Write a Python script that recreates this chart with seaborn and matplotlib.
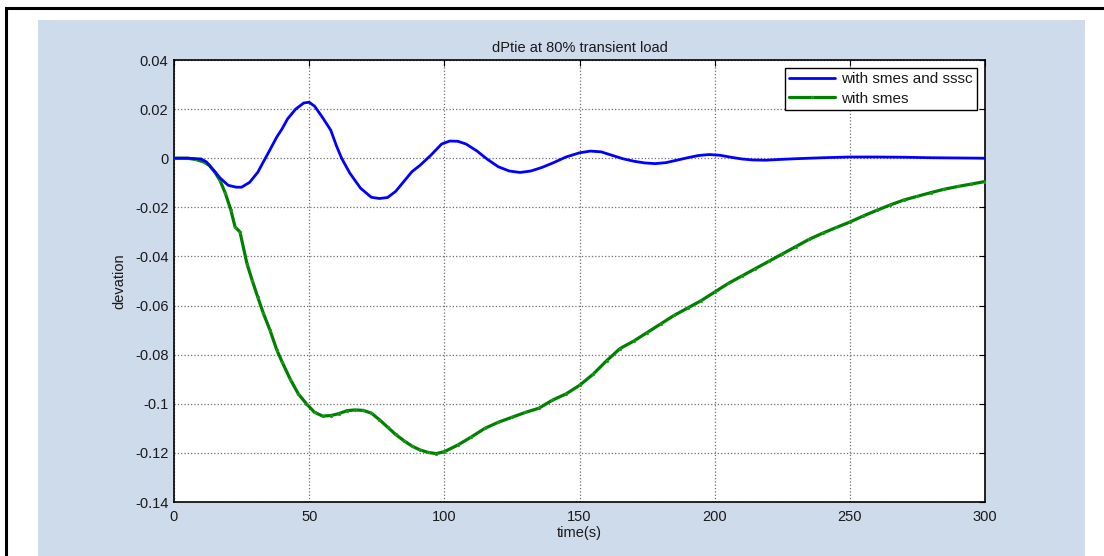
import matplotlib
matplotlib.use("Agg")
import matplotlib.pyplot as plt
from matplotlib.patches import Rectangle
import pandas as pd
import seaborn as sns

# Tie-line power deviation, with SMES + SSSC
t_sssc = [0, 5, 10, 12, 14, 17, 20, 23, 25, 28, 31, 33, 35, 38, 40, 42, 45, 48, 50,
          52, 55, 58, 60, 62, 65, 69, 73, 76, 79, 82, 85, 88, 91, 95, 99, 102, 105,
          108, 112, 116, 120, 124, 128, 132, 136, 140, 145, 150, 154, 158, 162,
          166, 170, 174, 178, 182, 186, 190, 194, 198, 202, 206, 210, 214, 219,
          224, 230, 240, 250, 260, 270, 280, 290, 300]
dp_sssc = [0.0, 0.0, -0.0003, -0.0015, -0.004, -0.008, -0.011, -0.0118, -0.0118,
           -0.0098, -0.0057, -0.0016, 0.0024, 0.0086, 0.012, 0.016, 0.0200, 0.0225,
           0.0228, 0.0212, 0.0165, 0.0114, 0.0053, 0.0, -0.006, -0.0122, -0.0159,
           -0.0164, -0.0160, -0.0135, -0.0095, -0.0055, -0.0029, 0.0012, 0.0058,
           0.0070, 0.0069, 0.0058, 0.0030, -0.0005, -0.0035, -0.0052, -0.0058,
           -0.0052, -0.0038, -0.0020, 0.0005, 0.0022, 0.0029, 0.0026, 0.0012,
           -0.0002, -0.0012, -0.0019, -0.0022, -0.0018, -0.0008, 0.0002, 0.0011,
           0.0015, 0.0012, 0.0004, -0.0003, -0.0007, -0.0008, -0.0005, -0.0002,
           0.0002, 0.0005, 0.0005, 0.0004, 0.0002, 0.0001, 0.0]

# Tie-line power deviation, SMES only
t_smes = [0, 5, 8, 11, 13, 15, 17, 19, 21, 22.6, 24.4, 27, 29, 31, 33, 35.5, 38,
          40, 43, 46, 49, 52, 55, 58, 61, 64, 67, 70, 73, 76, 79, 82, 85, 88, 91,
          94, 97, 100, 105, 110, 115, 120, 125, 130, 135, 140, 145, 150, 155, 160,
          165, 170, 175, 180, 185, 190, 195, 200, 205, 210, 215, 220, 225, 230,
          235, 240, 245, 250, 255, 260, 265, 270, 275, 280, 285, 290, 295, 300]
dp_smes = [0.0, 0.0, -0.0005, -0.0015, -0.0029, -0.0055, -0.009, -0.0143, -0.021,
           -0.028, -0.030, -0.043, -0.050, -0.0566, -0.063, -0.070, -0.078,
           -0.083, -0.090, -0.096, -0.100, -0.1035, -0.105, -0.1048, -0.104,
           -0.1028, -0.1025, -0.1027, -0.1038, -0.1065, -0.1095, -0.1125, -0.1150,
           -0.1172, -0.1188, -0.1198, -0.1203, -0.1195, -0.1168, -0.1135, -0.1100,
           -0.1075, -0.1055, -0.1035, -0.1018, -0.0985, -0.0960, -0.0925, -0.0880,
           -0.0825, -0.0775, -0.0745, -0.0710, -0.0675, -0.0640, -0.0610, -0.0580,
           -0.0545, -0.0510, -0.0480, -0.0450, -0.0420, -0.0390, -0.0360, -0.0330,
           -0.0305, -0.0282, -0.0260, -0.0235, -0.0212, -0.0190, -0.0170, -0.0155,
           -0.0140, -0.0126, -0.0115, -0.0105, -0.0095]

x_ticks = [0, 50, 100, 150, 200, 250, 300]
y_ticks = [0.04, 0.02, 0, -0.02, -0.04, -0.06, -0.08, -0.1, -0.12, -0.14]
y_tick_labels = ["0.04", "0.02", "0", "-0.02", "-0.04", "-0.06", "-0.08",
                 "-0.1", "-0.12", "-0.14"]

sns.set_style("white")
plt.rcParams["font.family"] = ["Liberation Sans", "DejaVu Sans"]

fig = plt.figure(figsize=(11.04, 5.56), dpi=100, facecolor="white")

# page frame and light-blue figure panel
fig.patches.append(Rectangle((6 / 1104, -0.1), 1.2, (556 - 8) / 556 + 0.1,
                             transform=fig.transFigure, fill=False,
                             edgecolor="black", linewidth=2.2, zorder=0))
fig.patches.append(Rectangle((38 / 1104, 0), (1085 - 38) / 1104, (556 - 20) / 556,
                             transform=fig.transFigure, facecolor="#cedbea",
                             edgecolor="none", zorder=1))

ax = fig.add_axes([174 / 1104, 1 - 502 / 556, (985 - 174) / 1104, (502 - 60) / 556])
ax.set_facecolor("white")
ax.set_zorder(2)

df_a = pd.DataFrame({"time": t_sssc, "dev": dp_sssc})
df_b = pd.DataFrame({"time": t_smes, "dev": dp_smes})

sns.lineplot(data=df_b, x="time", y="dev", ax=ax, color="#008000", linewidth=2.3,
             marker=".", markersize=3.5, markeredgewidth=0.6,
             markeredgecolor="#2ca02c", label="with smes", zorder=3)
sns.lineplot(data=df_a, x="time", y="dev", ax=ax, color="#0000ff", linewidth=2.0,
             label="with smes and sssc", zorder=4)

ax.set_xlim(0, 300)
ax.set_ylim(-0.14, 0.04)
ax.set_xticks(x_ticks)
ax.set_xticklabels([str(v) for v in x_ticks])
ax.set_yticks(y_ticks)
ax.set_yticklabels(y_tick_labels)

ax.grid(True, linestyle=":", color="#6e6e6e", linewidth=0.9)
ax.tick_params(axis="both", direction="in", length=4, width=0.8, colors="black",
               labelsize=10.5, top=True, right=True, labelcolor="#1a1a1a")
ax.tick_params(axis="x", pad=6)
ax.tick_params(axis="y", pad=4)
for s in ax.spines.values():
    s.set_color("black")
    s.set_linewidth(1.2)

ax.set_title("dPtie at 80% transient load", fontsize=10.5, color="#1a1a1a", pad=6)
ax.set_xlabel("time(s)", fontsize=10.5, color="#1a1a1a", labelpad=1)
ax.set_ylabel("devation", fontsize=10.5, color="#1a1a1a", labelpad=6)

handles, labels = ax.get_legend_handles_labels()
order = [labels.index("with smes and sssc"), labels.index("with smes")]
leg = ax.legend([handles[i] for i in order], [labels[i] for i in order],
                loc="upper right", fontsize=11, frameon=True, fancybox=False,
                framealpha=1, edgecolor="black", handlelength=3.0,
                borderaxespad=0.5, labelspacing=0.35, handletextpad=0.4,
                borderpad=0.3, markerscale=1.0)
leg.get_frame().set_linewidth(1.0)
for txt in leg.get_texts():
    txt.set_color("#1a1a1a")

fig.savefig("out.png", dpi=100, facecolor="white")
